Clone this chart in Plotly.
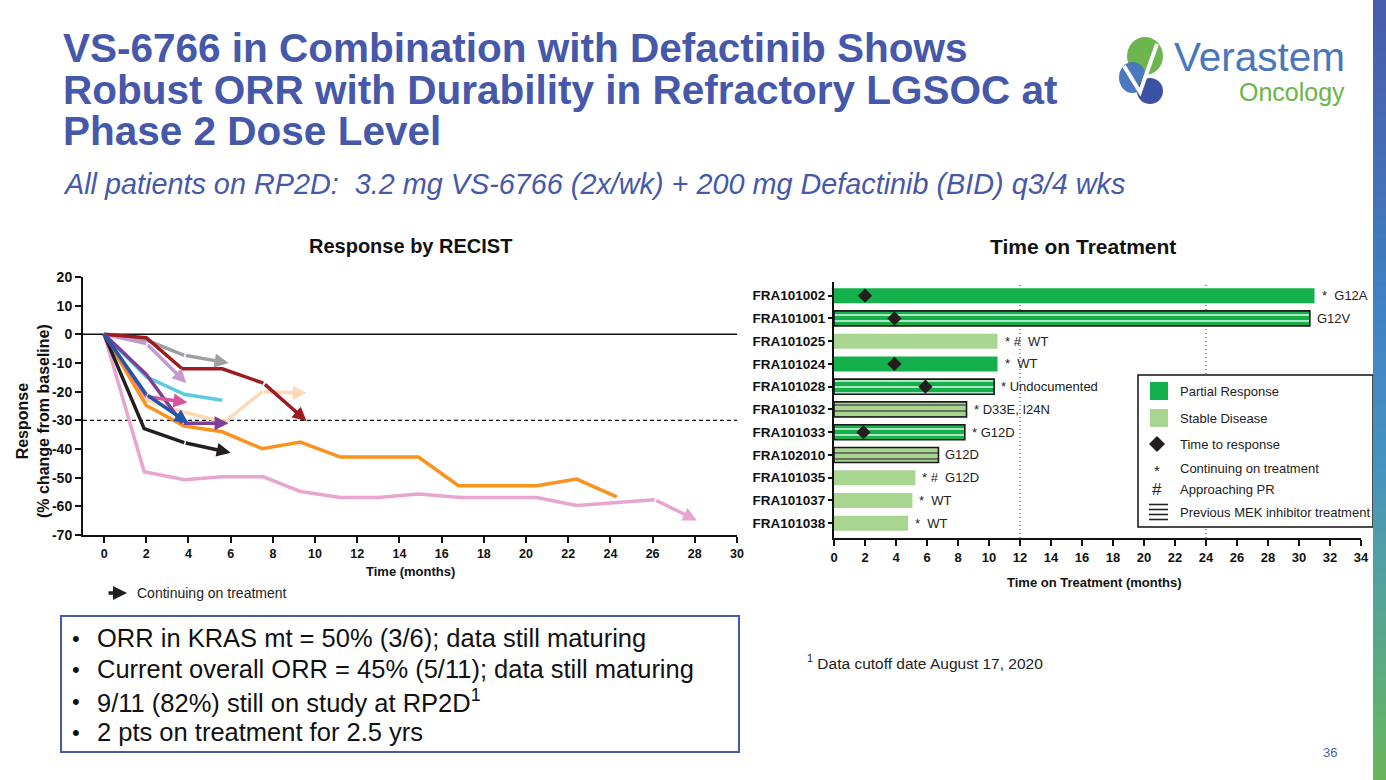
import plotly.graph_objects as go

W, H = 1386, 780
FONT = "Liberation Sans, Arial, Helvetica, sans-serif"
TITLE_BLUE = "#4658A9"

# ---------------- Left chart: Response by RECIST ----------------
gray_t = [0, 2, 3.8, 5.9]
gray_r = [0, -2, -7.3, -10]
lavender_t = [0, 2, 3.9]
lavender_r = [0, -3.2, -17]
darkred_t = [0, 2, 3.7, 5.6, 7.55, 9.6]
darkred_r = [0, -1.2, -12, -12, -17, -30.3]
cyan_t = [0, 2, 3.8, 5.6]
cyan_r = [0, -14.8, -20.9, -23]
peach_t = [0, 2, 3.7, 5.7, 7.5, 9.6]
peach_r = [0, -23, -27, -30.6, -20, -20.5]
magenta_t = [0, 2, 3.95]
magenta_r = [0, -21.7, -23.8]
purple_t = [0, 2, 3.7, 5.9]
purple_r = [0, -14, -31, -31]
blue_t = [0, 2, 4.0]
blue_r = [0, -21, -31]
orange_t = [0, 2, 3.8, 5.6, 7.5, 9.3, 11.2, 14.9, 16.8, 20.5, 22.4, 24.3]
orange_r = [0, -24.8, -32, -34, -39.9, -37.6, -42.8, -42.8, -52.8, -52.8, -50.5, -56.7]
black_t = [0, 1.9, 3.8, 6.0]
black_r = [0, -32.9, -37.8, -41.3]
pink_t = [0, 1.9, 3.8, 5.6, 7.55, 9.3, 11.2, 13.0, 14.9, 16.9, 20.5, 22.4, 26.1, 28.1]
pink_r = [0, -47.9, -50.7, -49.7, -49.7, -54.8, -56.9, -56.9, -55.7, -56.9, -56.9, -59.7, -57.7, -64.9]

series_colors = ["#FDD9B5", "#5CCBE0", "#9D9FA2", "#C59AD0", "#9E1B20", "#F7931E",
                 "#E8A5CF", "#231F20", "#D6559E", "#7E3F98", "#2456A6"]
series_continuing = [True, False, True, True, True, False, True, True, True, True, True]
series_t = [peach_t, cyan_t, gray_t, lavender_t, darkred_t, orange_t, pink_t, black_t,
            magenta_t, purple_t, blue_t]
series_r = [peach_r, cyan_r, gray_r, lavender_r, darkred_r, orange_r, pink_r, black_r,
            magenta_r, purple_r, blue_r]

y_ticks = [-70, -60, -50, -40, -30, -20, -10, 0, 10, 20]
y_ticktext = ["-70", "-60", "-50", "-40", "-30", "-20", "-10", "0", "10", "20"]
x_ticks = list(range(0, 31, 2))

# ---------------- Right chart: Time on Treatment ----------------
patients = ["FRA101002", "FRA101001", "FRA101025", "FRA101024", "FRA101028", "FRA101032",
            "FRA101033", "FRA102010", "FRA101035", "FRA101037", "FRA101038"]
duration = [31.0, 30.7, 10.55, 10.55, 10.33, 8.55, 8.44, 6.74, 5.25, 5.06, 4.78]
response = ["PR", "PR", "SD", "PR", "PR", "SD", "PR", "SD", "SD", "SD", "SD"]
prior_mek = [False, True, False, False, True, True, True, True, False, False, False]
time_to_response = [2.0, 3.9, None, 3.9, 5.9, None, 1.9, None, None, None, None]
bar_notes = ["*\u00a0\u00a0G12A", "G12V", "*\u00a0#\u00a0\u00a0WT", "*\u00a0\u00a0WT",
             "*\u00a0Undocumented", "*\u00a0D33E, I24N", "*\u00a0G12D", "G12D",
             "*\u00a0#\u00a0\u00a0G12D", "*\u00a0\u00a0WT", "*\u00a0\u00a0WT"]
x2_ticks = list(range(0, 35, 2))

PR_COLOR = "#13B04B"
SD_COLOR = "#A8D58F"


def px(x):
    return x / W


def py(y):
    return 1 - y / H


def label(x, y, text, size, color="#111", xanchor="center", yanchor="middle", **kw):
    return dict(x=px(x), y=py(y), xref="paper", yref="paper", text=text, showarrow=False,
                xanchor=xanchor, yanchor=yanchor, font=dict(size=size, color=color), **kw)


fig = go.Figure()

# left lines
annotations = []
for t, r, c, cont in zip(series_t, series_r, series_colors, series_continuing):
    n = len(t) - 1 if cont else len(t)
    fig.add_trace(go.Scatter(x=t[:n], y=r[:n], mode="lines",
                             line=dict(color=c, width=3.5, shape="linear"),
                             xaxis="x", yaxis="y", hoverinfo="skip"))
    if cont:
        annotations.append(dict(x=t[-1], y=r[-1], ax=t[-2], ay=r[-2], xref="x", yref="y",
                                axref="x", ayref="y", showarrow=True, arrowhead=2,
                                arrowsize=0.8, arrowwidth=3.5, arrowcolor=c, text="",
                                standoff=0))

# right bars
bar_colors = [PR_COLOR if r == "PR" else SD_COLOR for r in response]
pat_shapes = ["-" if m else "" for m in prior_mek]
line_widths = [1.6 if m else 0 for m in prior_mek]
fig.add_trace(go.Bar(x=duration, y=patients, orientation="h", width=0.66,
                     marker=dict(color=bar_colors,
                                 line=dict(color="#1a1a1a", width=line_widths),
                                 pattern=dict(shape=pat_shapes, fgcolor="#1a1a1a",
                                              bgcolor=bar_colors, fgopacity=1,
                                              size=6, solidity=0.22, fillmode="overlay")),
                     xaxis="x2", yaxis="y2", hoverinfo="skip"))

ttr_x = [v for v in time_to_response if v is not None]
ttr_y = [p for p, v in zip(patients, time_to_response) if v is not None]
fig.add_trace(go.Scatter(x=ttr_x, y=ttr_y, mode="markers",
                         marker=dict(symbol="diamond", size=11, color="#231F20"),
                         xaxis="x2", yaxis="y2", hoverinfo="skip"))

for d, p, note in zip(duration, patients, bar_notes):
    annotations.append(dict(x=d, y=p, xref="x2", yref="y2", text=note, showarrow=False,
                            xanchor="left", yanchor="middle", xshift=5,
                            font=dict(size=13, color="#222")))

shapes = []
# zero line and -30 threshold
shapes.append(dict(type="line", xref="x", yref="y", x0=-1, x1=30, y0=0, y1=0,
                   line=dict(color="#111", width=1.5), layer="below"))
shapes.append(dict(type="line", xref="x", yref="y", x0=-1, x1=30, y0=-30, y1=-30,
                   line=dict(color="#111", width=1.3, dash="4px,3px"), layer="below"))
# dotted reference lines at 12 and 24 months
for xv in (12, 24):
    shapes.append(dict(type="line", xref="x2", yref="y2 domain", x0=xv, x1=xv, y0=0, y1=1,
                       line=dict(color="#555", width=1.2, dash="1px,3px"), layer="below"))

# legend box (right chart)
shapes.append(dict(type="rect", xref="paper", yref="paper", x0=px(1138), x1=px(1373),
                   y0=py(527), y1=py(375), line=dict(color="#111", width=1.5),
                   fillcolor="white", layer="above"))
shapes.append(dict(type="rect", xref="paper", yref="paper", x0=px(1150), x1=px(1168),
                   y0=py(400), y1=py(382), line=dict(width=0), fillcolor=PR_COLOR))
shapes.append(dict(type="rect", xref="paper", yref="paper", x0=px(1150), x1=px(1168),
                   y0=py(427), y1=py(409), line=dict(width=0), fillcolor=SD_COLOR))
cx, cy, r = 1157, 444, 8
shapes.append(dict(type="path", xref="paper", yref="paper",
                   path=f"M {px(cx)},{py(cy - r)} L {px(cx + r)},{py(cy)} L {px(cx)},{py(cy + r)} L {px(cx - r)},{py(cy)} Z",
                   fillcolor="#231F20", line=dict(width=0)))
for yy in (504.5, 509.5, 514.5, 519.5):
    shapes.append(dict(type="line", xref="paper", yref="paper", x0=px(1149), x1=px(1168),
                       y0=py(yy), y1=py(yy), line=dict(color="#222", width=1.6)))

legend_items = [("Partial Response", 391), ("Stable Disease", 418), ("Time to response", 444),
                ("Continuing on treatment", 468), ("Approaching PR", 489),
                ("Previous MEK inhibitor treatment", 512)]
for txt, yy in legend_items:
    annotations.append(label(1178, yy, txt, 13, color="#222", xanchor="left"))
annotations.append(label(1157, 470, "*", 15, color="#222"))
annotations.append(label(1157, 489, "#", 17, color="#222"))

# chart titles & axis titles
annotations.append(label(410, 246, "<b>Response by RECIST</b>", 20))
annotations.append(label(1083, 246, "<b>Time on Treatment</b>", 21))
annotations.append(label(410, 571, "<b>Time (months)</b>", 13))
annotations.append(label(1094, 582, "<b>Time on Treatment (months)</b>", 13))
annotations.append(label(33, 421, "<b>Response<br>(% change from baseline)</b>", 16,
                         textangle=-90))

# continuing on treatment key (left)
annotations.append(dict(x=px(127), y=py(593), xref="paper", yref="paper", ax=-20, ay=0,
                        showarrow=True, arrowhead=2, arrowsize=0.8, arrowwidth=3.5,
                        arrowcolor="#231F20", text=""))
annotations.append(label(135, 593, "Continuing on treatment", 14, color="#222",
                         xanchor="left"))

# slide title
title_lines = ["VS-6766 in Combination with Defactinib Shows",
               "Robust ORR with Durability in Refractory LGSOC at",
               "Phase 2 Dose Level"]
for txt, yy in zip(title_lines, (48, 90, 131)):
    annotations.append(label(61, yy, f"<b>{txt}</b>", 40.5, color=TITLE_BLUE, xanchor="left"))
annotations.append(label(61, 184,
                         "<i>All patients on RP2D:  3.2 mg VS-6766 (2x/wk) + 200 mg Defactinib (BID) q3/4 wks</i>",
                         28.8, color=TITLE_BLUE, xanchor="left"))

# bullet box
bullets = ["ORR in KRAS mt = 50% (3/6); data still maturing",
           "Current overall ORR = 45% (5/11); data still maturing",
           "9/11 (82%) still on study at RP2D<sup>1</sup>",
           "2 pts on treatment for 2.5 yrs"]
shapes.append(dict(type="rect", xref="paper", yref="paper", x0=px(61), x1=px(739),
                   y0=py(752), y1=py(616), line=dict(color="#4658A9", width=2),
                   fillcolor="rgba(0,0,0,0)"))
for txt, yy in zip(bullets, (638, 669, 701, 732)):
    annotations.append(label(76, yy, "•", 22))
    annotations.append(label(95, yy, txt, 25.5, xanchor="left"))

# footnote and page number
annotations.append(label(805, 662, "<sup>1</sup> Data cutoff date August 17, 2020", 15.5,
                         color="#222", xanchor="left"))
annotations.append(label(1330, 752, "36", 13, color="#4A62B0"))

# logo
annotations.append(label(1172, 57, "Verastem", 40.5, color="#4A76BC", xanchor="left"))
annotations.append(label(1237, 92, "Oncology", 25, color="#6AB547", xanchor="left"))
shapes.append(dict(type="circle", xref="paper", yref="paper", x0=px(1127), x1=px(1163),
                   y0=py(75), y1=py(37), fillcolor="#6DB54F", line=dict(width=0)))
shapes.append(dict(type="circle", xref="paper", yref="paper", x0=px(1119), x1=px(1146),
                   y0=py(93), y1=py(62), fillcolor="#4B78BE", line=dict(width=0)))
shapes.append(dict(type="circle", xref="paper", yref="paper", x0=px(1137), x1=px(1163),
                   y0=py(104), y1=py(78), fillcolor="#3E52A5", line=dict(width=0)))
shapes.append(dict(type="path", xref="paper", yref="paper",
                   path=f"M {px(1124)},{py(66)} L {px(1140)},{py(92)} L {px(1157)},{py(44)}",
                   line=dict(color="white", width=4)))

# right gradient bar
stops = [(0.0, (74, 91, 173)), (0.25, (68, 114, 186)), (0.4, (63, 131, 198)),
         (0.6, (69, 148, 192)), (0.75, (82, 163, 156)), (1.0, (108, 181, 92))]


def grad(f):
    for (f0, c0), (f1, c1) in zip(stops[:-1], stops[1:]):
        if f0 <= f <= f1:
            k = (f - f0) / (f1 - f0)
            return "rgb(%d,%d,%d)" % tuple(round(a + (b - a) * k) for a, b in zip(c0, c1))
    return "rgb(%d,%d,%d)" % stops[-1][1]


nseg = 60
for i in range(nseg):
    y0, y1 = i * H / nseg, (i + 1) * H / nseg
    shapes.append(dict(type="rect", xref="paper", yref="paper", x0=px(1373), x1=1,
                       y0=py(y1 + 0.5), y1=py(y0), fillcolor=grad((i + 0.5) / nseg),
                       line=dict(width=0), layer="above"))

axis_common = dict(showline=True, linecolor="#111", linewidth=2, ticks="outside",
                   tickcolor="#111", tickwidth=1.5, showgrid=False, zeroline=False,
                   automargin=False)

fig.update_layout(
    width=W, height=H, margin=dict(l=0, r=0, t=0, b=0, autoexpand=False),
    paper_bgcolor="white", plot_bgcolor="white", showlegend=False,
    font=dict(family=FONT, color="#111"),
    xaxis=dict(domain=[px(83), px(737)], range=[-1, 30], tickvals=x_ticks, ticklen=6,
               anchor="y", tickfont=dict(size=12.5, weight="bold"), **axis_common),
    yaxis=dict(domain=[py(535), py(277)], range=[-70, 20], tickvals=y_ticks,
               ticktext=y_ticktext, ticklen=6, anchor="x",
               tickfont=dict(size=14, weight="bold"), **axis_common),
    xaxis2=dict(domain=[px(834), px(1361)], range=[0, 34], tickvals=x2_ticks, ticklen=6,
                anchor="y2", tickfont=dict(size=13, weight="bold"), **axis_common),
    yaxis2=dict(domain=[py(538), py(282)], type="category", categoryorder="array",
                categoryarray=patients, range=[10.65, -0.6], ticklen=4, anchor="x2",
                tickfont=dict(size=13.5, weight="bold"), **axis_common),
    annotations=annotations, shapes=shapes,
)

fig.write_html("out.html", config={"responsive": False, "displayModeBar": False},
               post_script="document.body.style.margin='0';document.body.style.overflow='hidden';")
